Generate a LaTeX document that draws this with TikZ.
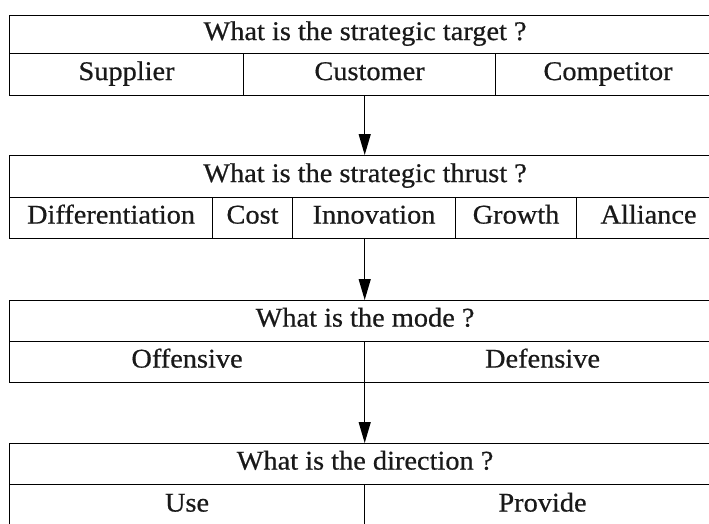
\documentclass[tikz,border=0pt]{standalone}
\usepackage{fontspec}
\setmainfont{Liberation Serif}[FakeStretch=1.05, FakeBold=0.6]
\usetikzlibrary{arrows.meta}
\newcommand{\cellfont}{\fontsize{27}{31}\selectfont}
\tikzset{
  cell/.style={draw, line width=1.1pt, inner sep=0pt, anchor=north west, font=\cellfont, text=black!90, text height=17pt, text depth=6pt},
  arr/.style={line width=1.2pt, -{Triangle[length=21pt,width=12pt]}},
  whole/.style={inner sep=0pt, anchor=north west}
}
\begin{document}
\begin{tikzpicture}[x=1pt,y=-1pt]
\useasboundingbox (0,0) rectangle (709,523);
\clip (0,0) rectangle (709,523);
% Box 1
\node[whole, minimum width=711pt, minimum height=80pt] (b1) at (9,15) {};
\node[cell, minimum width=711pt, minimum height=38pt] (h1) at (9,15) {What is the strategic target ?};
\node[cell, minimum width=234pt, minimum height=42pt] (c11) at (9,53) {Supplier};
\node[cell, minimum width=252pt, minimum height=42pt] (c12) at (243,53) {Customer};
\node[cell, minimum width=225pt, minimum height=42pt] (c13) at (495,53) {Competitor};
% Box 2
\node[whole, minimum width=711pt, minimum height=83pt] (b2) at (9,155) {};
\node[cell, minimum width=711pt, minimum height=42pt] (h2) at (9,155) {What is the strategic thrust ?};
\node[cell, minimum width=203pt, minimum height=41pt] (c21) at (9,197) {Differentiation};
\node[cell, minimum width=80pt, minimum height=41pt] (c22) at (212,197) {Cost};
\node[cell, minimum width=163pt, minimum height=41pt] (c23) at (292,197) {Innovation};
\node[cell, minimum width=121pt, minimum height=41pt] (c24) at (455,197) {Growth};
\node[cell, minimum width=144pt, minimum height=41pt] (c25) at (576,197) {Alliance};
% Box 3
\node[whole, minimum width=711pt, minimum height=82pt] (b3) at (9,300) {};
\node[cell, minimum width=711pt, minimum height=41pt] (h3) at (9,300) {What is the mode ?};
\node[cell, minimum width=355pt, minimum height=41pt] (c31) at (9,341) {Offensive};
\node[cell, minimum width=356pt, minimum height=41pt] (c32) at (364,341) {Defensive};
% Box 4
\node[whole, minimum width=711pt, minimum height=84pt] (b4) at (9,443) {};
\node[cell, minimum width=711pt, minimum height=41pt] (h4) at (9,443) {What is the direction ?};
\node[cell, minimum width=355pt, minimum height=43pt] (c41) at (9,484) {Use};
\node[cell, minimum width=356pt, minimum height=43pt] (c42) at (364,484) {Provide};
% Arrows
\draw[arr] (b1.south) -- (b2.north);
\draw[arr] (b2.south) -- (b3.north);
\draw[arr] (b3.south) -- (b4.north);
\end{tikzpicture}
\end{document}
